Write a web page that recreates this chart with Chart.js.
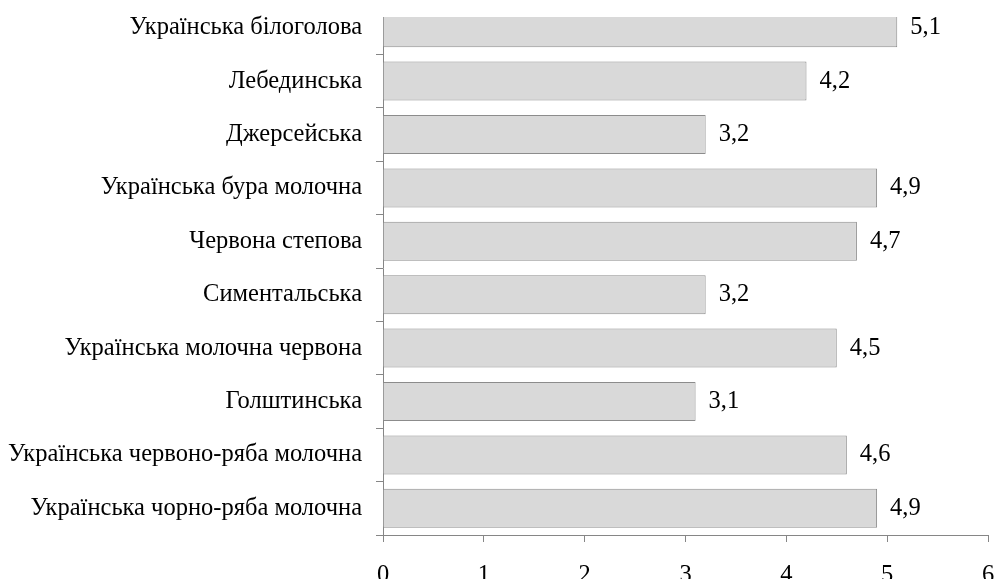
<!DOCTYPE html>
<html><head><meta charset="utf-8">
<style>html,body{margin:0;padding:0;overflow:hidden;background:#fff}#wrap{width:997px;height:600px}</style>
<script src="https://cdn.jsdelivr.net/npm/chart.js@4/dist/chart.umd.min.js"></script>
</head><body><div id="wrap"><canvas id="c" width="997" height="600"></canvas></div>
<script>
const categories = [
  "Українська білоголова",
  "Лебединська",
  "Джерсейська",
  "Українська бура молочна",
  "Червона степова",
  "Симентальська",
  "Українська молочна червона",
  "Голштинська",
  "Українська червоно-ряба молочна",
  "Українська чорно-ряба молочна"
];
const values = [5.1, 4.2, 3.2, 4.9, 4.7, 3.2, 4.5, 3.1, 4.6, 4.9];
const xMin = 0, xMax = 6, xStep = 1;

const FONT = 'Liberation Serif';
const FS = 24.5;
const overlay = {
  id: 'overlay',
  afterDatasetsDraw(chart) {
    const {ctx, chartArea} = chart;
    ctx.save();
    ctx.fillStyle = '#fff';
    ctx.fillRect(chartArea.left - 10, 0, chart.width, 17);
    const meta = chart.getDatasetMeta(0);
    ctx.font = FS + 'px "' + FONT + '"';
    ctx.fillStyle = '#000';
    ctx.textBaseline = 'middle';
    ctx.textAlign = 'left';
    meta.data.forEach((bar, i) => {
      ctx.fillText(String(values[i]).replace('.', ','), bar.x + 13, bar.y);
    });
    ctx.restore();
  }
};

new Chart(document.getElementById('c'), {
  type: 'bar',
  data: {
    labels: categories,
    datasets: [{
      data: values,
      backgroundColor: '#d9d9d9',
      borderColor: '#8c8c8c',
      borderWidth: 1,
      barPercentage: 0.73,
      categoryPercentage: 1
    }]
  },
  options: {
    responsive: false,
    animation: false,
    indexAxis: 'y',
    layout: {padding: {top: 1, left: 0, right: 9, bottom: 0}},
    plugins: {legend: {display: false}, tooltip: {enabled: false}},
    scales: {
      x: {
        min: xMin, max: xMax,
        ticks: {stepSize: xStep, padding: 19, color: '#000', font: {family: FONT, size: FS}},
        grid: {drawOnChartArea: false, tickLength: 7, color: '#868686'},
        border: {color: '#868686'},
        afterFit(s) { s.height = 65; s.paddingLeft = 0; s.paddingRight = 0; }
      },
      y: {
        ticks: {padding: 14, color: '#000', font: {family: FONT, size: FS}},
        grid: {drawOnChartArea: false, tickLength: 7, color: '#868686', offset: true},
        border: {color: '#868686'},
        afterFit(s) { s.width = 383; s.paddingTop = 0; s.paddingBottom = 0; }
      }
    }
  },
  plugins: [overlay]
});
</script>
</body></html>
